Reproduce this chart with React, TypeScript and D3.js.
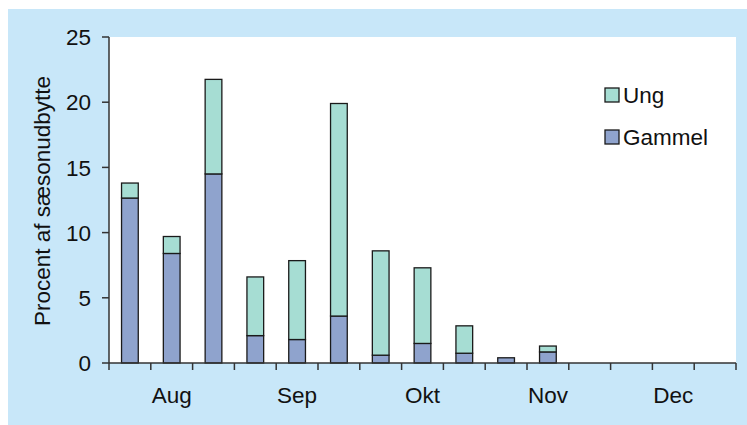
import React from "react";
import * as d3 from "d3";

const slots = d3.range(15);
const gammel = [12.65, 8.4, 14.5, 2.1, 1.8, 3.6, 0.6, 1.5, 0.75, 0.4, 0.85, 0, 0, 0, 0];
const ung = [1.15, 1.3, 7.25, 4.5, 6.05, 16.3, 8.0, 5.8, 2.1, 0, 0.45, 0, 0, 0, 0];
const months = ["Aug", "Sep", "Okt", "Nov", "Dec"];
const yTicks = [0, 5, 10, 15, 20, 25];
const seriesNames = ["Ung", "Gammel"];
const colors: Record<string, string> = { Ung: "#a6ddd3", Gammel: "#8fa3cd" };

const W = 747, H = 425;
const plot = { left: 109, right: 736, top: 37, bottom: 363 };
const FONT = "'Liberation Sans', Arial, Helvetica, sans-serif";
const FS = 22.5;

export default function App() {
  const x = d3.scaleBand<number>().domain(slots).range([plot.left, plot.right]).paddingInner(0.6).paddingOuter(0.3);
  const xs = d3.scaleLinear().domain([0, 15]).range([plot.left, plot.right]);
  const y = d3.scaleLinear().domain([0, 25]).range([plot.bottom, plot.top]);
  const stack = d3.stack<number>().keys(["Gammel", "Ung"]).value((i, k) => (k === "Gammel" ? gammel[i] : ung[i]));
  const layers = stack(slots);
  const bw = x.bandwidth();

  return (
    <svg width={W} height={H} style={{ position: "absolute", left: 0, top: 0 }} fontFamily={FONT}>
      <rect x={8} y={9} width={W - 8} height={H - 9} fill="#c8e7f9" />
      <rect x={plot.left} y={plot.top} width={plot.right - plot.left} height={plot.bottom - plot.top} fill="#ffffff" />
      {layers.map((layer) =>
        layer.map((d, i) => {
          const h = y(d[0]) - y(d[1]);
          if (h <= 0.01) return null;
          return (
            <rect
              key={layer.key + i}
              x={x(i)!}
              y={y(d[1])}
              width={bw}
              height={h}
              fill={colors[layer.key]}
              stroke="#1a1a1a"
              strokeWidth={1.3}
            />
          );
        })
      )}
      {/* y axis */}
      <line x1={plot.left} x2={plot.left} y1={plot.top} y2={plot.bottom} stroke="#333" strokeWidth={1.5} />
      {yTicks.map((t) => (
        <g key={t}>
          <line x1={plot.left - 7} x2={plot.left} y1={y(t)} y2={y(t)} stroke="#333" strokeWidth={1.5} />
          <text x={plot.left - 18} y={y(t)} dy="0.36em" textAnchor="end" fontSize={FS} fill="#111">
            {t}
          </text>
        </g>
      ))}
      {/* x axis */}
      <line x1={plot.left} x2={plot.right} y1={plot.bottom} y2={plot.bottom} stroke="#333" strokeWidth={1.5} />
      {d3.range(16).map((i) => (
        <line key={i} x1={xs(i)} x2={xs(i)} y1={plot.bottom} y2={plot.bottom + 7} stroke="#333" strokeWidth={1.5} />
      ))}
      {months.map((m, i) => (
        <text key={m} x={xs(i * 3 + 1.5)} y={403} textAnchor="middle" fontSize={FS} fill="#111">
          {m}
        </text>
      ))}
      <text transform={`translate(50,201) rotate(-90)`} textAnchor="middle" fontSize={FS} fill="#111">
        Procent af sæsonudbytte
      </text>
      {/* legend */}
      {seriesNames.map((s, i) => (
        <g key={s} transform={`translate(605,${88 + i * 42})`}>
          <rect x={0} y={0} width={14} height={14} fill={colors[s]} stroke="#1a1a1a" strokeWidth={1.3} />
          <text x={18} y={14.5} fontSize={FS} fill="#111">
            {s}
          </text>
        </g>
      ))}
    </svg>
  );
}
